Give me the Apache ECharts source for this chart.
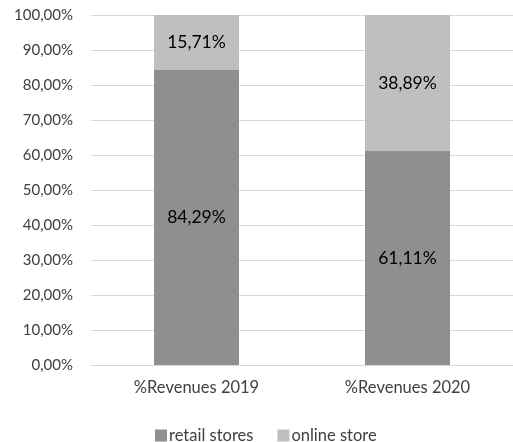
<!DOCTYPE html>
<html>
<head>
<meta charset="utf-8">
<script src="https://cdn.jsdelivr.net/npm/echarts@6/dist/echarts.min.js"></script>
<style>
  html, body { margin: 0; padding: 0; background: #fff; }
  #chart { width: 513px; height: 442px; }
</style>
</head>
<body>
<div id="chart"></div>
<script>
// Revenue share by channel, stacked to 100%
const categories = ['%Revenues 2019', '%Revenues 2020'];
const retailStores = [84.29, 61.11];
const onlineStore = [15.71, 38.89];
const yTicks = [0, 10, 20, 30, 40, 50, 60, 70, 80, 90, 100];

const fontFamily = 'Lato, "Open Sans", sans-serif';
const fmt = v => v.toFixed(2).replace('.', ',') + '%';

const chart = echarts.init(document.getElementById('chart'), null, { renderer: 'canvas' });

const barLabel = {
  show: true,
  position: 'inside',
  color: '#000',
  fontSize: 17.5,
  fontFamily: fontFamily,
  formatter: p => fmt(p.value)
};

chart.setOption({
  animation: false,
  grid: { left: 91, top: 15, width: 428, height: 350, containLabel: false },
  xAxis: {
    type: 'category',
    data: categories,
    axisLine: { show: true, lineStyle: { color: '#d9d9d9', width: 1 } },
    axisTick: { show: false },
    axisLabel: { color: '#404040', fontSize: 16.5, fontFamily: fontFamily, margin: 14 }
  },
  yAxis: {
    type: 'value',
    min: yTicks[0],
    max: yTicks[yTicks.length - 1],
    interval: 10,
    axisLine: { show: false },
    axisTick: { show: false },
    splitLine: { lineStyle: { color: '#d9d9d9', width: 1 } },
    axisLabel: { color: '#404040', fontSize: 15, fontFamily: fontFamily, margin: 18, formatter: v => fmt(v) }
  },
  legend: {
    top: 422,
    left: 150,
    itemWidth: 12,
    itemHeight: 12,
    itemGap: 24,
    icon: 'rect',
    textStyle: { color: '#404040', fontSize: 16.5, fontFamily: fontFamily, padding: [0, 0, 0, -3] },
    data: ['retail stores', 'online store']
  },
  series: [
    {
      name: 'retail stores',
      type: 'bar',
      stack: 'total',
      barWidth: 85,
      data: retailStores,
      itemStyle: { color: '#8f8f8f' },
      label: barLabel
    },
    {
      name: 'online store',
      type: 'bar',
      stack: 'total',
      barWidth: 85,
      data: onlineStore,
      itemStyle: { color: '#bfbfbf' },
      label: barLabel
    }
  ]
});
</script>
</body>
</html>
